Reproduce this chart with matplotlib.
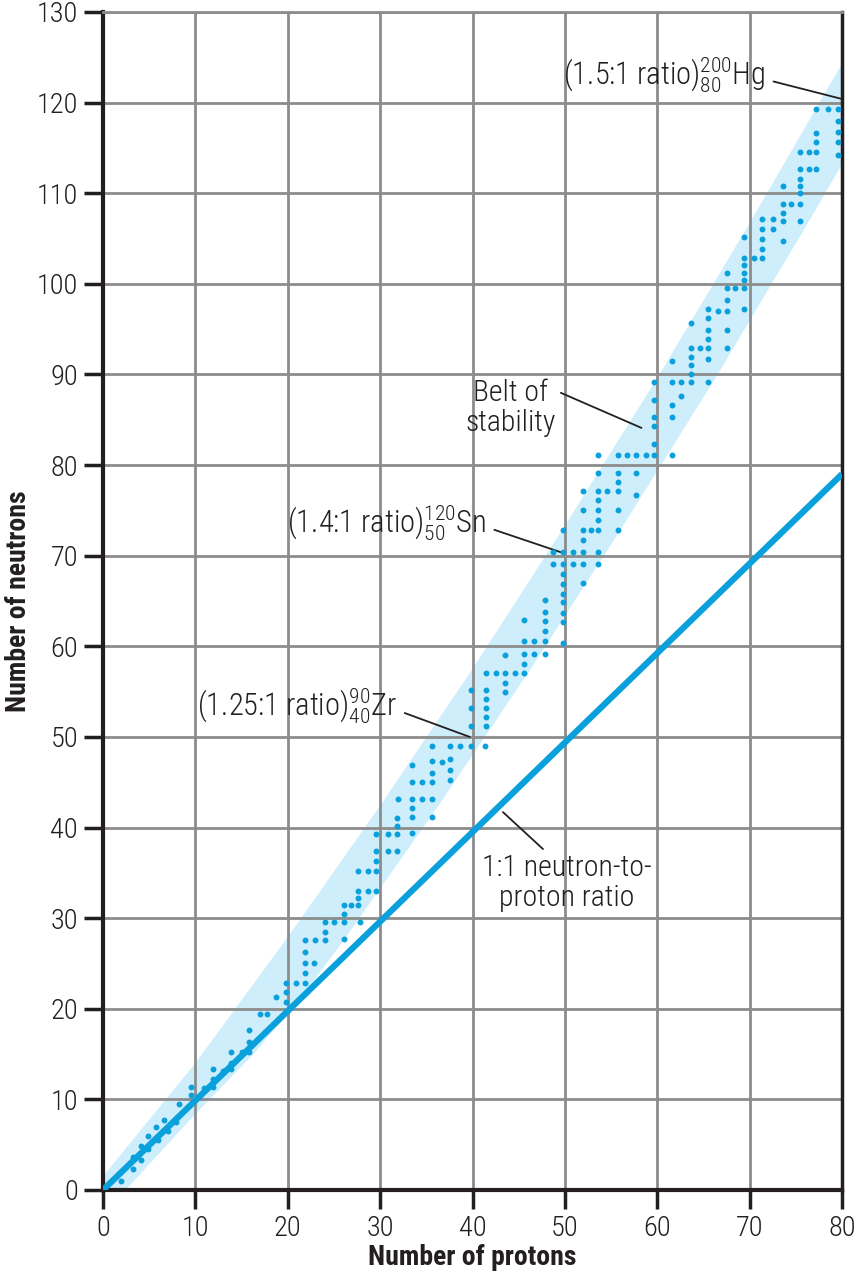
import matplotlib.pyplot as plt

plt.rcParams['font.family'] = ['Roboto Condensed', 'Liberation Sans', 'DejaVu Sans']
plt.rcParams['mathtext.fontset'] = 'custom'
plt.rcParams['mathtext.rm'] = 'Roboto Condensed:light'
plt.rcParams['mathtext.it'] = 'Roboto Condensed:light'

BLUE = '#0aa0dc'
BAND = '#cdeefa'
GRID = '#8c8c8c'
INK = '#231f20'

# stable nuclides (protons, neutrons)
z_light = [1.95, 3.2, 3.2, 4.15, 4.15, 4.9, 4.9, 5.7, 6.0, 6.6, 7.0, 7.9, 8.2, 9.5, 9.5,
           10.9, 11.9, 11.9, 11.9, 13.0, 13.9, 13.9, 13.9, 15.0, 15.8, 15.8, 15.8, 17.0, 17.8]
n_light = [1.0, 2.3, 3.6, 3.3, 4.9, 4.5, 6.0, 6.9, 5.5, 7.7, 6.5, 7.5, 9.5, 10.45, 11.4,
           11.3, 11.4, 12.3, 13.3, 13.1, 13.3, 14.05, 15.2, 15.2, 15.2, 16.3, 17.7, 19.4, 19.4]

z_mid = [18.7, 19.8, 19.8, 19.8, 20.9, 21.9, 21.9, 21.9, 22.8, 21.9, 21.9, 22.9, 24.0, 24.0,
         26.1, 24.0, 25.0, 26.1, 27.8, 26.1, 26.1, 26.9, 27.6, 27.6, 27.6, 28.65, 29.5,
         27.6, 28.65, 29.5, 29.5, 29.5, 30.8, 31.85, 29.5, 30.8, 31.8, 31.8, 31.8,
         33.5, 33.5, 33.5, 31.9, 33.5, 34.5, 35.6, 35.6, 33.5, 34.5, 35.6, 33.5, 35.6, 35.6,
         36.7, 37.6, 37.6, 37.6, 35.6, 37.6, 38.7, 39.8, 41.4, 39.8, 39.8, 39.8,
         41.45, 41.45, 41.45, 41.45, 41.45]
n_mid = [21.3, 20.7, 21.85, 22.8, 22.8, 22.8, 23.95, 25.1, 25.1, 26.3, 27.55, 27.55, 27.55, 28.5,
         27.7, 29.6, 29.6, 29.6, 29.6, 30.5, 31.45, 31.45, 31.45, 32.2, 33.0, 33.0, 33.0,
         35.2, 35.2, 35.2, 36.3, 37.45, 37.45, 37.45, 39.3, 39.3, 39.3, 40.2, 41.05,
         39.4, 41.2, 42.15, 43.2, 43.2, 43.2, 43.2, 41.2, 45.0, 45.0, 45.0, 46.9, 46.0, 47.3,
         47.2, 47.6, 46.4, 45.2, 49.0, 49.0, 49.0, 49.0, 49.0, 51.2, 53.2, 55.2,
         55.2, 54.2, 53.2, 52.2, 51.2]

z_sn = [41.5, 42.5, 43.5, 44.6, 45.6, 43.5, 43.5, 43.5, 45.6, 45.6, 46.7, 47.8, 45.6, 46.7,
        47.8, 45.6, 47.8, 47.8, 47.8, 47.8,
        49.8, 49.8, 49.8, 49.8, 49.8, 49.8, 49.8, 49.8, 49.8, 49.8,
        48.7, 50.85, 52.0, 53.6, 48.7, 50.85, 52.0, 53.6, 52.0, 52.0, 52.0, 52.8, 53.6, 55.7,
        53.6, 53.6, 52.0, 55.7, 53.6, 52.0, 53.6, 54.6, 55.7, 57.7, 55.7, 53.6, 55.7, 57.7,
        53.6, 55.7, 56.7, 57.7, 58.8, 59.7, 61.6]
n_sn = [57.0, 57.0, 57.0, 57.0, 57.0, 55.9, 55.0, 59.05, 58.1, 59.15, 59.15, 59.15, 60.55, 60.55,
        60.55, 62.9, 61.7, 62.8, 63.8, 65.1,
        60.4, 62.65, 63.7, 64.85, 65.8, 66.9, 68.0, 69.1, 70.4, 72.8,
        70.45, 70.45, 70.45, 70.45, 69.1, 69.1, 69.1, 69.1, 67.0, 71.7, 72.8, 72.8, 72.8, 72.8,
        73.9, 75.0, 75.0, 75.0, 76.1, 77.1, 77.1, 77.1, 77.1, 76.7, 78.1, 79.1, 79.1, 79.1,
        81.1, 81.1, 81.1, 81.1, 81.1, 81.1, 81.1]

z_heavy = [59.7, 59.7, 59.7, 59.7, 59.7, 61.6, 61.6, 61.6, 61.6, 62.6, 63.7, 65.5, 62.6,
           63.7, 63.7, 63.7, 63.7, 64.6, 65.5, 65.5, 65.5, 65.5,
           67.5, 67.5, 63.7, 65.5, 66.6, 67.5, 65.5, 69.4, 67.5, 67.5, 68.4, 69.4, 67.5,
           69.4, 69.4, 69.4, 69.4, 70.5, 71.3, 69.4, 71.3, 71.3, 72.5, 71.3, 71.3, 72.5,
           73.6, 73.6, 73.6, 73.6, 74.5, 75.4, 75.4, 75.4, 75.4, 73.6, 75.4, 75.4, 76.4, 77.2,
           75.4, 76.4, 77.2, 77.2, 77.2, 77.2, 78.5, 79.6, 79.6, 79.6, 79.6, 79.6]
n_heavy = [82.3, 84.3, 85.3, 87.2, 89.2, 85.3, 86.6, 89.2, 91.5, 89.2, 89.2, 89.2, 87.65,
           90.1, 91.0, 91.9, 92.9, 92.9, 92.9, 91.75, 93.9, 94.9,
           92.9, 94.9, 95.7, 96.2, 97.0, 97.0, 97.2, 97.2, 98.2, 99.5, 99.5, 99.5, 101.2,
           100.4, 101.2, 102.1, 102.9, 102.9, 102.8, 105.2, 103.9, 104.9, 106.05, 106.05, 107.2, 107.2,
           104.7, 106.9, 107.85, 108.85, 108.85, 108.85, 106.9, 110.0, 110.8, 110.8, 111.6, 112.7, 112.7, 112.7,
           114.55, 114.55, 114.55, 115.6, 116.7, 119.3, 119.3, 119.3, 118.0, 116.8, 115.6, 114.2]

# belt of stability outline (edges)
belt_upper_z = [-1, 0, 10, 20, 30, 40, 50, 60, 70, 80, 84]
belt_upper_n = [0.0, 1.5, 14.0, 27.9, 42.4, 57.5, 73.3, 89.6, 106.7, 124.3, 131.5]
belt_lower_z = [-1, 2, 10.1, 16.3, 21.5, 26.3, 36.3, 46.3, 56.3, 66.3, 76.3, 86.3]
belt_lower_n = [-3.0, -0.5, 8.5, 15.0, 21.3, 27.9, 42.4, 57.5, 73.3, 89.6, 106.7, 124.3]

# 1:1 reference line
ratio_z = [0, 80]
ratio_n = [0, 79]

# labelled nuclides: (label, protons, neutrons, text position)
labels = ['(1.25:1 ratio)${}^{90}_{40}$Zr', '(1.4:1 ratio)${}^{120}_{50}$Sn', '(1.5:1 ratio)${}^{200}_{80}$Hg']
label_z = [39.7, 49.8, 80.0]
label_n = [50.0, 70.3, 120.4]
label_tz = [31.8, 41.5, 71.7]
label_tn = [53.4, 73.6, 123.0]

fig = plt.figure(figsize=(8.6, 12.75), dpi=100)
ax = fig.add_axes([103 / 860, 85 / 1275, 739 / 860, 1178 / 1275])

belt_z = belt_upper_z + belt_lower_z[::-1]
belt_n = belt_upper_n + belt_lower_n[::-1]
ax.fill(belt_z, belt_n, color=BAND, lw=0, zorder=0.5)

ax.plot(ratio_z, ratio_n, color=BLUE, lw=4.5, solid_capstyle='butt', zorder=3)
for zs, ns in [(z_light, n_light), (z_mid, n_mid), (z_sn, n_sn), (z_heavy, n_heavy)]:
    ax.scatter(zs, ns, s=18, color=BLUE, lw=0, zorder=4)

ax.set_xlim(0, 80)
ax.set_ylim(0, 130)
ax.set_xticks(range(0, 81, 10))
ax.set_yticks(range(0, 131, 10))
ax.set_axisbelow('line')
ax.grid(color=GRID, lw=2)
ax.tick_params(direction='out', length=14, width=2.5, color=INK, labelsize=20.5,
               labelcolor=INK, pad=4)
for lbl in ax.get_xticklabels() + ax.get_yticklabels():
    lbl.set_fontweight('light')
for side in ['left', 'bottom']:
    ax.spines[side].set_linewidth(3)
    ax.spines[side].set_color(INK)
ax.spines['top'].set_color(GRID)
ax.spines['top'].set_linewidth(2)
ax.spines['right'].set_color(INK)
ax.spines['right'].set_linewidth(2.5)

ax.set_xlabel('Number of protons', fontsize=20, fontweight='bold', color=INK)
ax.set_ylabel('Number of neutrons', fontsize=20, fontweight='bold', color=INK)
ax.xaxis.set_label_coords(0.5, -0.046)
ax.yaxis.set_label_coords(-0.096, 0.5)

for txt, z, n, tz, tn in zip(labels, label_z, label_n, label_tz, label_tn):
    ax.annotate(txt, xy=(z, n), xytext=(tz, tn), ha='right', va='center', fontsize=22,
                fontweight='light', color=INK,
                arrowprops=dict(arrowstyle='-', color=INK, lw=1.3,
                                relpos=(1, 0.4), shrinkA=4, shrinkB=0))

ax.annotate('Belt of\nstability', xy=(58.3, 84.1), xytext=(44.1, 86.3), ha='center', va='center',
            fontsize=21.5, fontweight='light', color=INK, linespacing=1.1,
            arrowprops=dict(arrowstyle='-', color=INK, lw=1.3, relpos=(1, 0.8), shrinkA=2, shrinkB=0))
ax.annotate('1:1 neutron-to-\nproton ratio', xy=(43.3, 41.7), xytext=(50.2, 33.9), ha='center',
            va='center', fontsize=21.5, fontweight='light', color=INK, linespacing=1.1,
            arrowprops=dict(arrowstyle='-', color=INK, lw=1.3, relpos=(0.39, 1), shrinkA=2, shrinkB=0))

fig.savefig('out.png', dpi=100)
